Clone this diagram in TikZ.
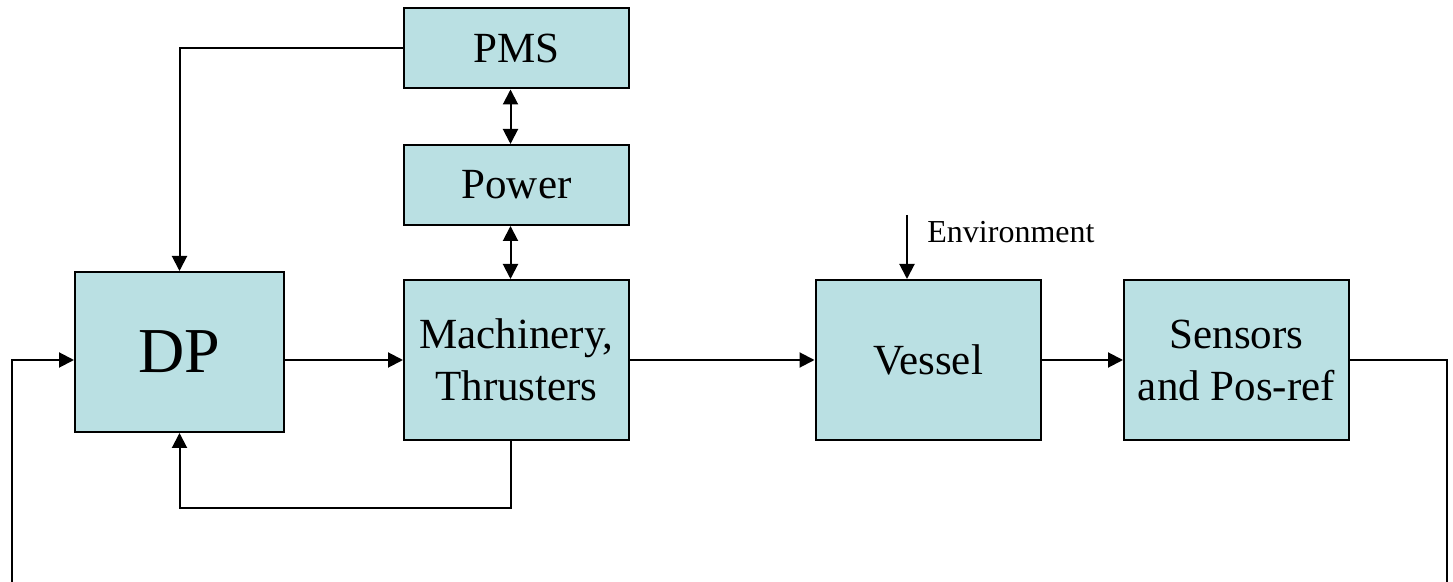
\documentclass[tikz,border=0pt]{standalone}
\usepackage{fontspec}
\setmainfont{Liberation Serif}
\usetikzlibrary{arrows.meta, positioning, calc}
\definecolor{blockcyan}{RGB}{186,224,227}

\begin{document}
\begin{tikzpicture}[x=0.5pt, y=-0.5pt,
    block/.style={rectangle, draw=black, line width=1pt, fill=blockcyan, minimum width=112.5pt, minimum height=80pt, inner sep=0pt, align=center, font=\fontsize{21.5}{26}\selectfont},
    smallblock/.style={block, minimum height=40pt},
    arrow/.style={-{Triangle[length=7.5pt, width=7.5pt]}, line width=1pt},
    darrow/.style={{Triangle[length=7.5pt, width=7.5pt]}-{Triangle[length=7.5pt, width=7.5pt]}, line width=1pt}
]
\useasboundingbox (0,0) rectangle (1453,582);

% Blocks
\node[smallblock] (pms) at (516.5,48.5) {PMS};
\node[smallblock] (power) at (516.5,185) {Power};
\node[block] (mach) at (516.5,360) {Machinery,\\Thrusters};
\node[block, minimum width=104.5pt, font=\fontsize{32}{38}\selectfont] (dp) at (179.5,352) {DP};
\node[block] (vessel) at (928,360) {Vessel};
\node[block] (sens) at (1236.5,360) {Sensors\\and Pos-ref};

% Free ends
\coordinate (env) at (907,215);
\coordinate (fbR) at (1447,582);
\coordinate (fbL) at (12,582);
\coordinate (loop) at (300,508);

% Arrows
\draw[darrow] ([xshift=-3pt]pms.south) -- ([xshift=-3pt]power.north);
\draw[darrow] ([xshift=-3pt]power.south) -- ([xshift=-3pt]mach.north);
\draw[arrow] (pms.west) -| (dp.north);
\draw[arrow] (dp.east |- mach.west) -- (mach.west);
\draw[arrow] ([xshift=-3pt]mach.south) |- (loop) -| (dp.south);
\draw[arrow] (mach.east) -- (vessel.west);
\draw[arrow] (env) -- (env |- vessel.north);
\draw[arrow] (vessel.east) -- (sens.west);
\draw[line width=1pt] (sens.east) -| (fbR);
\draw[arrow] (fbL) |- (dp.west |- sens.east);

% Label
\node[font=\fontsize{16}{19}\selectfont, anchor=west, inner sep=0pt] (envlabel) at (927,232) {Environment};

\end{tikzpicture}
\end{document}
